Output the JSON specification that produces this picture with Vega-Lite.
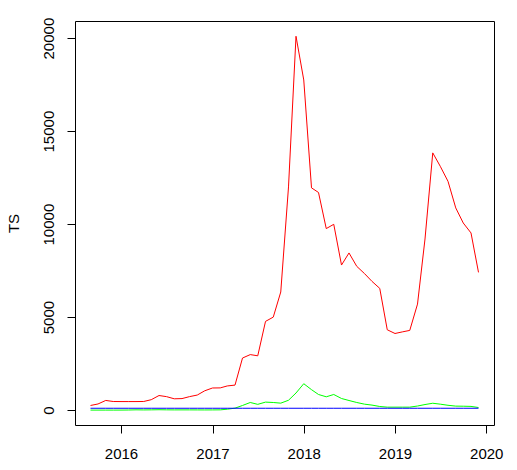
{
  "$schema": "https://vega.github.io/schema/vega-lite/v6.json",
  "width": 419,
  "height": 404,
  "autosize": {"type": "none"},
  "padding": {"left": 75, "top": 21, "right": 23, "bottom": 45},
  "background": "white",
  "config": {
    "view": {"stroke": "black", "strokeWidth": 1},
    "font": "Liberation Sans",
    "axis": {
      "domain": false,
      "grid": false,
      "tickColor": "black",
      "tickSize": 8,
      "labelFont": "Liberation Sans",
      "labelFontSize": 15,
      "labelColor": "black",
      "titleFont": "Liberation Sans",
      "titleFontSize": 15,
      "titleFontWeight": "normal",
      "titleColor": "black"
    }
  },
  "data": {
    "values": [
      {"date": "2015-09-01", "series": "s1", "value": 250},
      {"date": "2015-10-01", "series": "s1", "value": 330},
      {"date": "2015-11-01", "series": "s1", "value": 520},
      {"date": "2015-12-01", "series": "s1", "value": 463},
      {"date": "2016-01-01", "series": "s1", "value": 460},
      {"date": "2016-02-01", "series": "s1", "value": 460},
      {"date": "2016-03-01", "series": "s1", "value": 460},
      {"date": "2016-04-01", "series": "s1", "value": 465},
      {"date": "2016-05-01", "series": "s1", "value": 560},
      {"date": "2016-06-01", "series": "s1", "value": 785},
      {"date": "2016-07-01", "series": "s1", "value": 725},
      {"date": "2016-08-01", "series": "s1", "value": 608},
      {"date": "2016-09-01", "series": "s1", "value": 620},
      {"date": "2016-10-01", "series": "s1", "value": 725},
      {"date": "2016-11-01", "series": "s1", "value": 810},
      {"date": "2016-12-01", "series": "s1", "value": 1040},
      {"date": "2017-01-01", "series": "s1", "value": 1190},
      {"date": "2017-02-01", "series": "s1", "value": 1195},
      {"date": "2017-03-01", "series": "s1", "value": 1300},
      {"date": "2017-04-01", "series": "s1", "value": 1345},
      {"date": "2017-05-01", "series": "s1", "value": 2800},
      {"date": "2017-06-01", "series": "s1", "value": 2985},
      {"date": "2017-07-01", "series": "s1", "value": 2920},
      {"date": "2017-08-01", "series": "s1", "value": 4770},
      {"date": "2017-09-01", "series": "s1", "value": 5000},
      {"date": "2017-10-01", "series": "s1", "value": 6350},
      {"date": "2017-11-01", "series": "s1", "value": 12000},
      {"date": "2017-12-01", "series": "s1", "value": 20100},
      {"date": "2018-01-01", "series": "s1", "value": 17750},
      {"date": "2018-02-01", "series": "s1", "value": 11950},
      {"date": "2018-03-01", "series": "s1", "value": 11700},
      {"date": "2018-04-01", "series": "s1", "value": 9760},
      {"date": "2018-05-01", "series": "s1", "value": 9990},
      {"date": "2018-06-01", "series": "s1", "value": 7800},
      {"date": "2018-07-01", "series": "s1", "value": 8450},
      {"date": "2018-08-01", "series": "s1", "value": 7730},
      {"date": "2018-09-01", "series": "s1", "value": 7340},
      {"date": "2018-10-01", "series": "s1", "value": 6920},
      {"date": "2018-11-01", "series": "s1", "value": 6545},
      {"date": "2018-12-01", "series": "s1", "value": 4320},
      {"date": "2019-01-01", "series": "s1", "value": 4120},
      {"date": "2019-02-01", "series": "s1", "value": 4210},
      {"date": "2019-03-01", "series": "s1", "value": 4285},
      {"date": "2019-04-01", "series": "s1", "value": 5700},
      {"date": "2019-05-01", "series": "s1", "value": 9200},
      {"date": "2019-06-01", "series": "s1", "value": 13830},
      {"date": "2019-07-01", "series": "s1", "value": 13110},
      {"date": "2019-08-01", "series": "s1", "value": 12300},
      {"date": "2019-09-01", "series": "s1", "value": 10870},
      {"date": "2019-10-01", "series": "s1", "value": 10060},
      {"date": "2019-11-01", "series": "s1", "value": 9525},
      {"date": "2019-12-01", "series": "s1", "value": 7405},

      {"date": "2015-09-01", "series": "s2", "value": 1},
      {"date": "2015-10-01", "series": "s2", "value": 1},
      {"date": "2015-11-01", "series": "s2", "value": 1},
      {"date": "2015-12-01", "series": "s2", "value": 1},
      {"date": "2016-01-01", "series": "s2", "value": 2},
      {"date": "2016-02-01", "series": "s2", "value": 6},
      {"date": "2016-03-01", "series": "s2", "value": 15},
      {"date": "2016-04-01", "series": "s2", "value": 10},
      {"date": "2016-05-01", "series": "s2", "value": 14},
      {"date": "2016-06-01", "series": "s2", "value": 21},
      {"date": "2016-07-01", "series": "s2", "value": 15},
      {"date": "2016-08-01", "series": "s2", "value": 12},
      {"date": "2016-09-01", "series": "s2", "value": 13},
      {"date": "2016-10-01", "series": "s2", "value": 13},
      {"date": "2016-11-01", "series": "s2", "value": 11},
      {"date": "2016-12-01", "series": "s2", "value": 9},
      {"date": "2017-01-01", "series": "s2", "value": 11},
      {"date": "2017-02-01", "series": "s2", "value": 14},
      {"date": "2017-03-01", "series": "s2", "value": 50},
      {"date": "2017-04-01", "series": "s2", "value": 105},
      {"date": "2017-05-01", "series": "s2", "value": 250},
      {"date": "2017-06-01", "series": "s2", "value": 410},
      {"date": "2017-07-01", "series": "s2", "value": 310},
      {"date": "2017-08-01", "series": "s2", "value": 430},
      {"date": "2017-09-01", "series": "s2", "value": 410},
      {"date": "2017-10-01", "series": "s2", "value": 375},
      {"date": "2017-11-01", "series": "s2", "value": 530},
      {"date": "2017-12-01", "series": "s2", "value": 920},
      {"date": "2018-01-01", "series": "s2", "value": 1420},
      {"date": "2018-02-01", "series": "s2", "value": 1100},
      {"date": "2018-03-01", "series": "s2", "value": 840},
      {"date": "2018-04-01", "series": "s2", "value": 716},
      {"date": "2018-05-01", "series": "s2", "value": 840},
      {"date": "2018-06-01", "series": "s2", "value": 625},
      {"date": "2018-07-01", "series": "s2", "value": 517},
      {"date": "2018-08-01", "series": "s2", "value": 410},
      {"date": "2018-09-01", "series": "s2", "value": 320},
      {"date": "2018-10-01", "series": "s2", "value": 270},
      {"date": "2018-11-01", "series": "s2", "value": 195},
      {"date": "2018-12-01", "series": "s2", "value": 160},
      {"date": "2019-01-01", "series": "s2", "value": 160},
      {"date": "2019-02-01", "series": "s2", "value": 160},
      {"date": "2019-03-01", "series": "s2", "value": 160},
      {"date": "2019-04-01", "series": "s2", "value": 220},
      {"date": "2019-05-01", "series": "s2", "value": 300},
      {"date": "2019-06-01", "series": "s2", "value": 370},
      {"date": "2019-07-01", "series": "s2", "value": 320},
      {"date": "2019-08-01", "series": "s2", "value": 260},
      {"date": "2019-09-01", "series": "s2", "value": 215},
      {"date": "2019-10-01", "series": "s2", "value": 210},
      {"date": "2019-11-01", "series": "s2", "value": 200},
      {"date": "2019-12-01", "series": "s2", "value": 140},

      {"date": "2015-09-01", "series": "s3", "value": 100},
      {"date": "2015-10-01", "series": "s3", "value": 100},
      {"date": "2015-11-01", "series": "s3", "value": 100},
      {"date": "2015-12-01", "series": "s3", "value": 100},
      {"date": "2016-01-01", "series": "s3", "value": 100},
      {"date": "2016-02-01", "series": "s3", "value": 100},
      {"date": "2016-03-01", "series": "s3", "value": 100},
      {"date": "2016-04-01", "series": "s3", "value": 100},
      {"date": "2016-05-01", "series": "s3", "value": 100},
      {"date": "2016-06-01", "series": "s3", "value": 100},
      {"date": "2016-07-01", "series": "s3", "value": 100},
      {"date": "2016-08-01", "series": "s3", "value": 100},
      {"date": "2016-09-01", "series": "s3", "value": 100},
      {"date": "2016-10-01", "series": "s3", "value": 100},
      {"date": "2016-11-01", "series": "s3", "value": 100},
      {"date": "2016-12-01", "series": "s3", "value": 100},
      {"date": "2017-01-01", "series": "s3", "value": 100},
      {"date": "2017-02-01", "series": "s3", "value": 100},
      {"date": "2017-03-01", "series": "s3", "value": 100},
      {"date": "2017-04-01", "series": "s3", "value": 100},
      {"date": "2017-05-01", "series": "s3", "value": 100},
      {"date": "2017-06-01", "series": "s3", "value": 100},
      {"date": "2017-07-01", "series": "s3", "value": 100},
      {"date": "2017-08-01", "series": "s3", "value": 100},
      {"date": "2017-09-01", "series": "s3", "value": 100},
      {"date": "2017-10-01", "series": "s3", "value": 100},
      {"date": "2017-11-01", "series": "s3", "value": 100},
      {"date": "2017-12-01", "series": "s3", "value": 100},
      {"date": "2018-01-01", "series": "s3", "value": 100},
      {"date": "2018-02-01", "series": "s3", "value": 100},
      {"date": "2018-03-01", "series": "s3", "value": 100},
      {"date": "2018-04-01", "series": "s3", "value": 100},
      {"date": "2018-05-01", "series": "s3", "value": 100},
      {"date": "2018-06-01", "series": "s3", "value": 100},
      {"date": "2018-07-01", "series": "s3", "value": 100},
      {"date": "2018-08-01", "series": "s3", "value": 100},
      {"date": "2018-09-01", "series": "s3", "value": 100},
      {"date": "2018-10-01", "series": "s3", "value": 100},
      {"date": "2018-11-01", "series": "s3", "value": 100},
      {"date": "2018-12-01", "series": "s3", "value": 100},
      {"date": "2019-01-01", "series": "s3", "value": 100},
      {"date": "2019-02-01", "series": "s3", "value": 100},
      {"date": "2019-03-01", "series": "s3", "value": 100},
      {"date": "2019-04-01", "series": "s3", "value": 100},
      {"date": "2019-05-01", "series": "s3", "value": 100},
      {"date": "2019-06-01", "series": "s3", "value": 100},
      {"date": "2019-07-01", "series": "s3", "value": 100},
      {"date": "2019-08-01", "series": "s3", "value": 100},
      {"date": "2019-09-01", "series": "s3", "value": 100},
      {"date": "2019-10-01", "series": "s3", "value": 100},
      {"date": "2019-11-01", "series": "s3", "value": 100},
      {"date": "2019-12-01", "series": "s3", "value": 100}
    ]
  },
  "mark": {"type": "line", "strokeWidth": 1},
  "encoding": {
    "x": {
      "field": "date",
      "type": "temporal",
      "scale": {
        "type": "utc",
        "domain": [
          {"year": 2015, "month": 7, "date": 1, "utc": true},
          {"year": 2020, "month": 2, "date": 1, "utc": true}
        ]
      },
      "axis": {
        "title": null,
        "format": "%Y",
        "values": [
          {"year": 2016, "month": 1, "date": 1, "utc": true},
          {"year": 2017, "month": 1, "date": 1, "utc": true},
          {"year": 2018, "month": 1, "date": 1, "utc": true},
          {"year": 2019, "month": 1, "date": 1, "utc": true},
          {"year": 2020, "month": 1, "date": 1, "utc": true}
        ],
        "labelPadding": 13,
        "labelBaseline": "top",
        "labelFlush": false,
        "labelOverlap": false
      }
    },
    "y": {
      "field": "value",
      "type": "quantitative",
      "scale": {"domain": [-800, 20920], "nice": false, "zero": false},
      "axis": {
        "title": "TS",
        "values": [0, 5000, 10000, 15000, 20000],
        "format": "d",
        "labelAngle": -90,
        "labelAlign": "center",
        "labelBaseline": "alphabetic",
        "labelPadding": 14,
        "labelOverlap": false,
        "titleAngle": -90,
        "titleAlign": "center",
        "titleBaseline": "alphabetic",
        "titleX": -57
      }
    },
    "color": {
      "field": "series",
      "type": "nominal",
      "scale": {"domain": ["s1", "s2", "s3"], "range": ["#FF0000", "#00FF00", "#0000FF"]},
      "legend": null
    }
  }
}
